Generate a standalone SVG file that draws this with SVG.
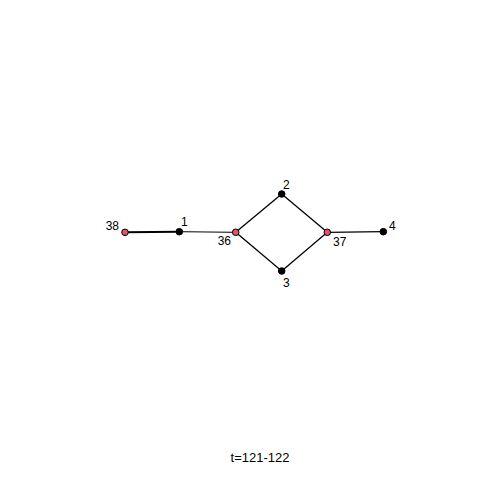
<svg xmlns="http://www.w3.org/2000/svg" width="480" height="480" viewBox="0 0 480 480">
<style>
text{font-family:"Liberation Sans",Arial,sans-serif;font-size:12px;fill:#000}
.n{stroke:#000;stroke-width:1}
.b{fill:#000}
.r{fill:#DF536B}
line{stroke:#000;stroke-width:1.3}
</style>
<rect width="480" height="480" fill="#fff"/>
<g id="edges">
<line x1="125" y1="232.3" x2="179.3" y2="231.7" style="stroke-width:2"/>
<line x1="179.3" y1="231.7" x2="235.7" y2="232.3" style="stroke-width:1"/>
<line x1="235.7" y1="232.3" x2="281.7" y2="194"/>
<line x1="235.7" y1="232.3" x2="281.7" y2="271"/>
<line x1="281.7" y1="194" x2="327.3" y2="232.3"/>
<line x1="281.7" y1="271" x2="327.3" y2="232.3"/>
<line x1="327.3" y1="232.3" x2="383.3" y2="231.7"/>
</g>
<g id="n38"><circle class="n r" cx="125" cy="232.3" r="3.3"/><text x="119" y="230" text-anchor="end">38</text></g>
<g id="n1"><circle class="n b" cx="179.3" cy="231.7" r="3.3"/><text x="181" y="226">1</text></g>
<g id="n36"><circle class="n r" cx="235.7" cy="232.3" r="3.3"/><text x="231" y="245" text-anchor="end">36</text></g>
<g id="n2"><circle class="n b" cx="281.7" cy="194" r="3.3"/><text x="283" y="189">2</text></g>
<g id="n3"><circle class="n b" cx="281.7" cy="271" r="3.3"/><text x="283" y="287">3</text></g>
<g id="n37"><circle class="n r" cx="327.3" cy="232.3" r="3.3"/><text x="333" y="246">37</text></g>
<g id="n4"><circle class="n b" cx="383.3" cy="231.7" r="3.3"/><text x="389" y="230">4</text></g>
<text x="260" y="462" text-anchor="middle" style="font-size:13px">t=121-122</text>
</svg>
